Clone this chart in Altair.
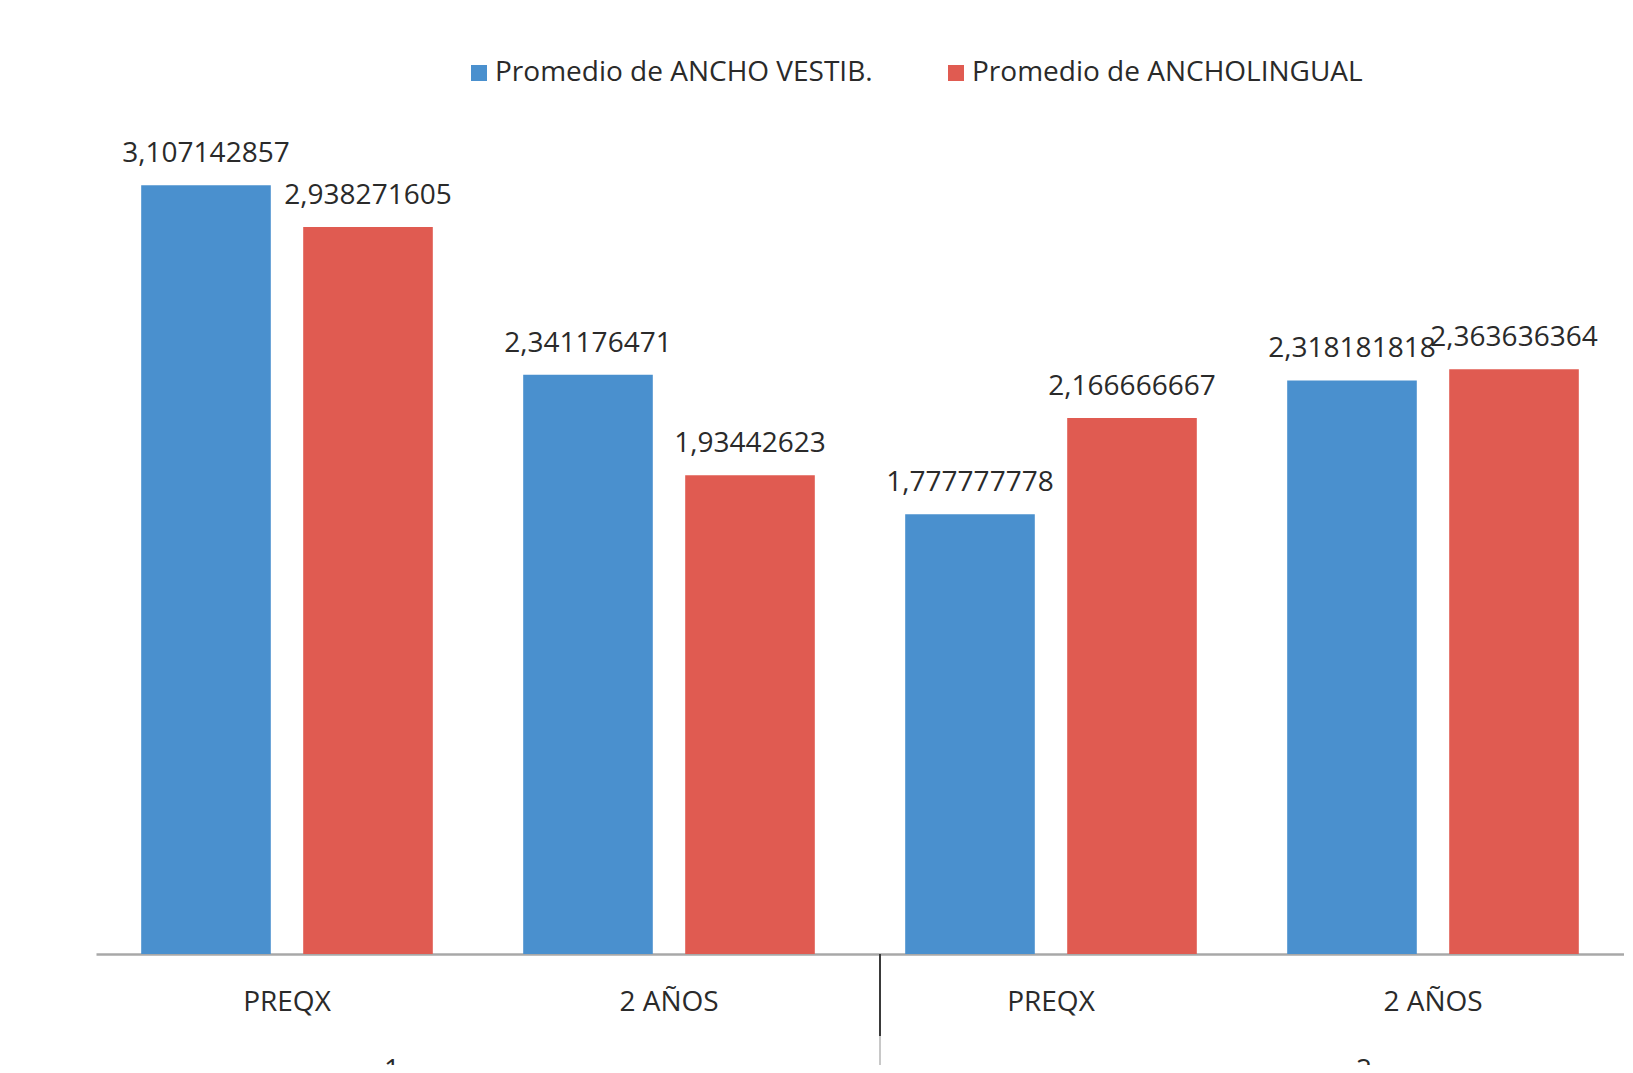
import altair as alt
import pandas as pd

# ---- data ----
groups = ["1", "1", "2", "2"]
periods = ["PREQX", "2 AÑOS", "PREQX", "2 AÑOS"]
series = ["Promedio de ANCHO VESTIB.", "Promedio de ANCHOLINGUAL"]
vestib = [3.107142857, 2.341176471, 1.777777778, 2.318181818]
lingual = [2.938271605, 1.93442623, 2.166666667, 2.363636364]
group_labels = ["1", "2"]

BLUE = "#4A90CE"
RED = "#E05B51"
TXT = "#2a2a2a"
FONT = "Open Sans"
FS = 28

W, H = 1528, 866
LEFT = 88

cats = [f"{g}|{p}" for g, p in zip(groups, periods)]
rows = []
for c, v, l in zip(cats, vestib, lingual):
    rows.append({"cat": c, "serie": series[0], "value": v,
                 "label": repr(v).replace(".", ",")})
    rows.append({"cat": c, "serie": series[1], "value": l,
                 "label": repr(l).replace(".", ",")})
df = pd.DataFrame(rows)

x_enc = alt.X(
    "cat:N", sort=cats,
    scale=alt.Scale(paddingInner=0.2366, paddingOuter=0.1183),
    axis=alt.Axis(title=None, labelExpr="split(datum.label, '|')[1]",
                  labelAngle=0, ticks=False, tickSize=0, grid=False,
                  domainColor="#A8A8A8", domainWidth=2.5,
                  labelFont=FONT, labelFontSize=FS, labelColor=TXT,
                  labelPadding=34),
)
xoff = alt.XOffset("serie:N", sort=series, scale=alt.Scale(paddingInner=0.2))
y_enc = alt.Y("value:Q", scale=alt.Scale(domain=[0, 3.5]), axis=None)

base = alt.Chart(df)

bars = base.mark_bar().encode(
    x=x_enc, xOffset=xoff, y=y_enc,
    color=alt.Color(
        "serie:N", sort=series,
        scale=alt.Scale(domain=series, range=[BLUE, RED]),
        legend=alt.Legend(
            title=None, orient="none", legendX=369, legendY=-29,
            direction="horizontal", symbolType="square", symbolSize=256,
            symbolStrokeWidth=0, symbolOpacity=1, labelFont=FONT,
            labelFontSize=FS, labelColor=TXT, labelOffset=2,
            columnPadding=69, padding=0, labelLimit=600,
        ),
    ),
)

labels = base.mark_text(
    baseline="alphabetic", dy=-23, font=FONT, fontSize=FS, color=TXT
).encode(x=x_enc, xOffset=xoff, y=y_enc, text="label:N")

one = alt.Chart(pd.DataFrame({"a": [0]}))
sep_dark = one.mark_rule(color="#3a3a3a", strokeWidth=2).encode(
    x=alt.value(784), y=alt.value(H), y2=alt.value(H + 82))
sep_light = one.mark_rule(color="#C8C8C8", strokeWidth=2).encode(
    x=alt.value(784), y=alt.value(H + 82), y2=alt.value(H + 200))

gdf = pd.DataFrame({"cat": [cats[0], cats[2]], "g": group_labels})
g1 = alt.Chart(gdf[gdf.g == group_labels[0]]).mark_text(
    baseline="top", dx=105, font=FONT, fontSize=FS, color=TXT
).encode(x=x_enc, y=alt.value(H + 103), text="g:N")
g2 = alt.Chart(gdf[gdf.g == group_labels[1]]).mark_text(
    baseline="top", dx=313, font=FONT, fontSize=FS, color=TXT
).encode(x=x_enc, y=alt.value(H + 103), text="g:N")

chart = alt.layer(bars, labels, sep_dark, sep_light, g1, g2).properties(
    width=W, height=H,
    autosize=alt.AutoSizeParams(type="none"),
    padding={"left": LEFT, "top": 80, "right": 0, "bottom": 111},
    background="white",
).configure_view(stroke=None)

chart.save("out.html", embed_options={"renderer": "svg", "actions": False})
